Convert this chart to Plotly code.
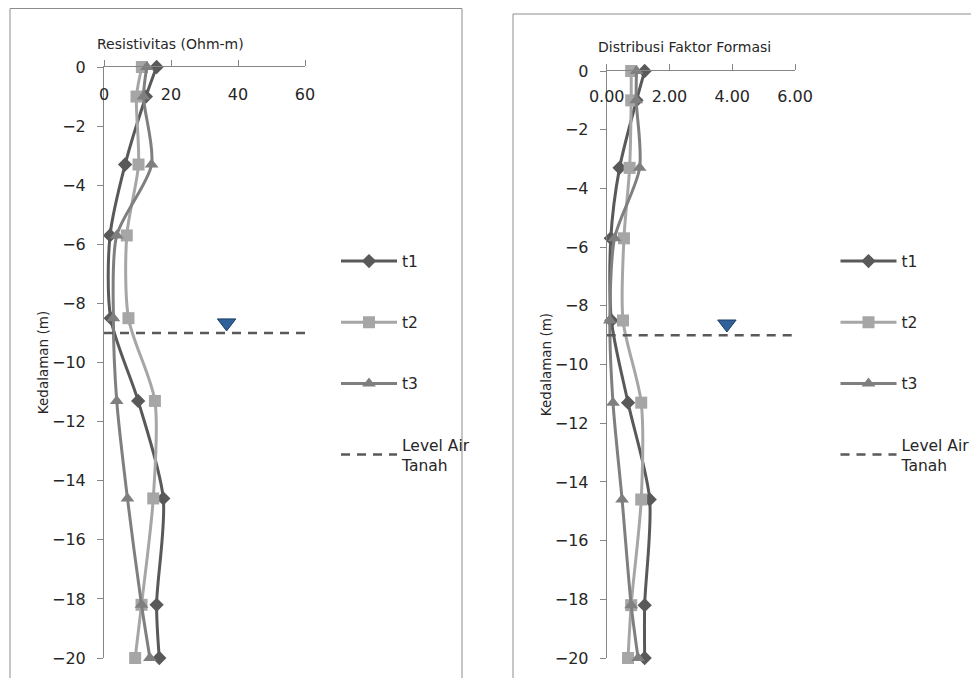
import plotly.graph_objects as go

# ---- data ----
depth = [0, -1, -3.3, -5.7, -8.5, -11.3, -14.6, -18.2, -20]

res_t1 = [15.7, 12.5, 6.3, 1.8, 2.0, 10.2, 17.7, 15.7, 16.5]
res_t2 = [11.3, 9.7, 10.3, 6.8, 7.3, 15.2, 14.7, 11.2, 9.3]
res_t3 = [12.8, 11.8, 14.2, 3.8, 2.8, 3.8, 7.0, 11.2, 13.7]

ff_t1 = [1.21, 0.95, 0.41, 0.13, 0.15, 0.68, 1.37, 1.21, 1.21]
ff_t2 = [0.78, 0.78, 0.73, 0.55, 0.52, 1.10, 1.10, 0.78, 0.68]
ff_t3 = [0.95, 0.94, 1.05, 0.25, 0.10, 0.20, 0.49, 0.78, 1.00]

water_level = -9
res_range = [0, 60]
ff_range = [0, 6]
res_ticks = [0, 20, 40, 60]
ff_ticks = [0, 2, 4, 6]
depth_ticks = list(range(0, -21, -2))
res_marker = (36.6, -8.66)
ff_marker = (3.83, -8.62)

series_names = ["t1", "t2", "t3"]
series_colors = ["#595959", "#a6a6a6", "#7f7f7f"]
series_symbols = ["diamond", "square", "triangle-up"]
series_sizes = [11, 12, 12]

# page has an 8px body margin; figure is placed at (8, 8) on screen
OFF = 8
W, H = 979 - OFF, 678 - OFF
def px(x):
    return (x - OFF) / W
def py(y):
    return 1 - (y - OFF) / H

fig = go.Figure()

panels = [
    dict(xa="x", ya="y", leg="legend", data=[res_t1, res_t2, res_t3], rng=res_range, mk=res_marker),
    dict(xa="x2", ya="y2", leg="legend2", data=[ff_t1, ff_t2, ff_t3], rng=ff_range, mk=ff_marker),
]

for p in panels:
    for name, vals, col, sym, sz in zip(series_names, p["data"], series_colors, series_symbols, series_sizes):
        fig.add_trace(go.Scatter(
            x=vals, y=depth, name=name, mode="lines+markers",
            line=dict(color=col, width=3, shape="spline", smoothing=0.8),
            marker=dict(symbol=sym, size=sz, color=col),
            xaxis=p["xa"], yaxis=p["ya"], legend=p["leg"], legendgroup=name,
            cliponaxis=False,
        ))
    fig.add_trace(go.Scatter(
        x=p["rng"], y=[water_level, water_level], name="Level Air<br>Tanah", mode="lines",
        line=dict(color="#595959", width=2.5, dash="9px,7px"),
        xaxis=p["xa"], yaxis=p["ya"], legend=p["leg"], legendgroup="lat",
        cliponaxis=False,
    ))
    fig.add_trace(go.Scatter(
        x=[p["mk"][0]], y=[p["mk"][1]], mode="markers", showlegend=False,
        marker=dict(symbol="triangle-down", size=16, color="#30619a",
                    line=dict(color="#1d3f66", width=1)),
        xaxis=p["xa"], yaxis=p["ya"], cliponaxis=False,
    ))

# invisible helper traces so the label-only axes are drawn
fig.add_trace(go.Scatter(x=res_range, y=[0, 0], mode="none", showlegend=False, hoverinfo="skip",
                         xaxis="x3", yaxis="y"))
fig.add_trace(go.Scatter(x=ff_range, y=[0, 0], mode="none", showlegend=False, hoverinfo="skip",
                         xaxis="x4", yaxis="y2"))

font = "DejaVu Sans"
txt = "#262626"
tickfont = dict(family=font, size=16, color=txt)
axis_common = dict(showgrid=False, zeroline=False, showline=True, linecolor="#868686",
                   linewidth=1, ticks="outside", ticklen=6, tickcolor="#868686",
                   tickfont=tickfont)
label_axis = dict(showgrid=False, zeroline=False, showline=False, ticks="",
                  tickfont=tickfont, side="top", anchor="free")
ytitle_font = dict(family=font, size=13.5, color=txt)
legend_font = dict(family=font, size=15.5, color=txt)

fig.update_layout(
    width=W, height=H, margin=dict(l=0, r=0, t=0, b=0, autoexpand=False),
    paper_bgcolor="white", plot_bgcolor="white",
    font=dict(family=font, size=15, color=txt),
    xaxis=dict(domain=[px(104), px(305)], range=res_range, side="top", anchor="y",
               tickvals=res_ticks, showticklabels=False, **axis_common),
    xaxis3=dict(overlaying="x", range=res_range, tickvals=res_ticks,
                position=py(103), **label_axis),
    yaxis=dict(domain=[py(658), py(67)], range=[-20, 0], anchor="x",
               tickvals=depth_ticks, ticklabelstandoff=8,
               title=dict(text="Kedalaman (m)", standoff=0, font=ytitle_font),
               **axis_common),
    xaxis2=dict(domain=[px(606.7), px(795)], range=ff_range, side="top", anchor="y2",
                tickvals=ff_ticks, showticklabels=False, **axis_common),
    xaxis4=dict(overlaying="x2", range=ff_range, tickvals=ff_ticks, tickformat=".2f",
                position=py(105), **label_axis),
    yaxis2=dict(domain=[py(658), py(71)], range=[-20, 0], anchor="x2",
                tickvals=depth_ticks, ticklabelstandoff=8,
                title=dict(text="Kedalaman (m)", standoff=0, font=ytitle_font),
                **axis_common),
    legend=dict(x=px(336), y=py(244.5), xanchor="left", yanchor="top", traceorder="grouped",
                tracegroupgap=38, itemwidth=56, bgcolor="rgba(0,0,0,0)", font=legend_font),
    legend2=dict(x=px(835.5), y=py(244.5), xanchor="left", yanchor="top", traceorder="grouped",
                 tracegroupgap=38, itemwidth=56, bgcolor="rgba(0,0,0,0)", font=legend_font),
    showlegend=True,
    shapes=[
        dict(type="rect", xref="paper", yref="paper", x0=px(10), x1=px(462), y0=py(690), y1=py(8.5),
             line=dict(color="#8c8c8c", width=1)),
        dict(type="rect", xref="paper", yref="paper", x0=px(513), x1=px(975), y0=py(690), y1=py(14),
             line=dict(color="#8c8c8c", width=1)),
    ],
    annotations=[
        dict(text="Resistivitas (Ohm-m)", xref="paper", yref="paper", x=px(170), y=py(44),
             xanchor="center", yanchor="middle",
             showarrow=False, font=dict(family=font, size=14, color=txt)),
        dict(text="Distribusi Faktor Formasi", xref="paper", yref="paper", x=px(684), y=py(47),
             xanchor="center", yanchor="middle",
             showarrow=False, font=dict(family=font, size=14, color=txt)),
    ],
)

fig.write_html("out.html")
